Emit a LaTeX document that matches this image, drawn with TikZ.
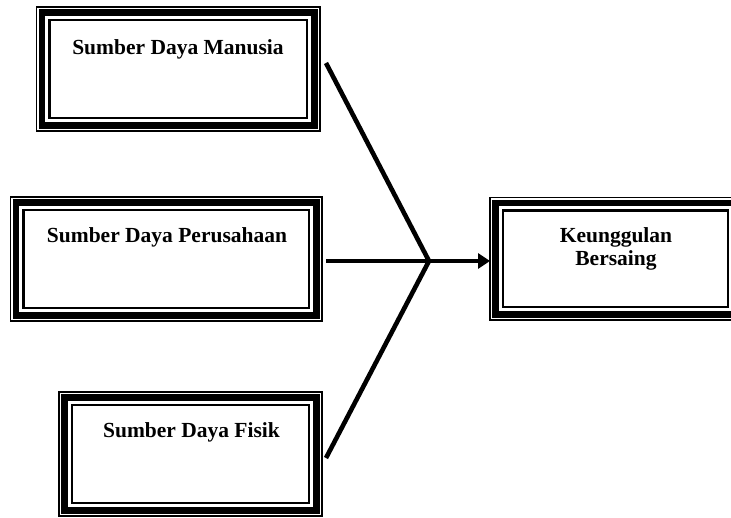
\documentclass[tikz,border=0pt]{standalone}
\usepackage{fontspec}
\setmainfont{Liberation Serif}
\usetikzlibrary{calc,arrows.meta}

% thin outer rule of a framed box; the thick band and inner rule are added by \bandframe
\tikzset{
  framebox/.style={draw, line width=1.5pt, inner sep=0pt, outer sep=0pt, rectangle},
  boxlabel/.style={inner sep=0pt, font=\bfseries\fontsize{21.5}{23.3}\selectfont},
  link/.style={line width=4.6pt, line cap=butt},
}
\newcommand\bandframe[1]{%
  \draw[line width=6.5pt] ($(#1.north west)+(5.7,5.7)$) rectangle ($(#1.south east)+(-5.7,-5.7)$);
  \draw[line width=2.2pt] ($(#1.north west)+(13,13)$) rectangle ($(#1.south east)+(-13,-13)$);
}

\begin{document}
\begin{tikzpicture}[x=1pt, y=-1pt]
  \useasboundingbox (0,0) rectangle (731,518);
  \clip (0,0) rectangle (731,518);

  % the four framed boxes
  \node[framebox, minimum width=283.5pt, minimum height=124pt] (sdm) at (178.25,69) {};
  \node[framebox, minimum width=311.5pt, minimum height=124pt] (sdp) at (166.25,259) {};
  \node[framebox, minimum width=263pt,   minimum height=124pt] (sdf) at (190.5,454) {};
  \node[framebox, minimum width=251pt,   minimum height=122.5pt] (kb) at (615.5,258.75) {};
  \bandframe{sdm}
  \bandframe{sdp}
  \bandframe{sdf}
  \bandframe{kb}

  % box titles
  \node[boxlabel, anchor=base] (sdmtext) at (178,54.3) {Sumber Daya Manusia};
  \node[boxlabel, anchor=base] (sdptext) at (167,243) {Sumber Daya Perusahaan};
  \node[boxlabel, anchor=base] (sdftext) at (191.5,438) {Sumber Daya Fisik};
  \node[boxlabel, anchor=base] (kbtext1) at (616,242.7) {Keunggulan};
  \node[boxlabel, anchor=base] (kbtext2) at (616,266) {Bersaing};

  % connectors meeting in one point, then the arrow into the result box
  \coordinate (from1) at (326,63);
  \coordinate (from2) at (326,261);
  \coordinate (from3) at (326,458);
  \coordinate (join)  at (429,261);
  \draw[link] (from1) -- (join) -- (from3);
  \draw[link, -{Triangle[length=12pt,width=15pt]}] (from2) -- (kb.west |- from2);
\end{tikzpicture}
\end{document}
